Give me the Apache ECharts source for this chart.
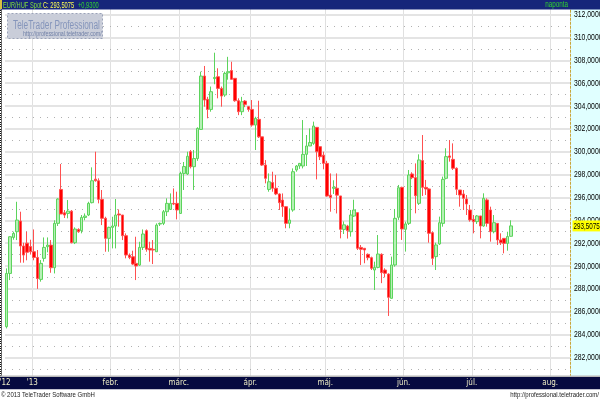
<!DOCTYPE html>
<html><head><meta charset="utf-8">
<script src="https://cdn.jsdelivr.net/npm/echarts@6/dist/echarts.min.js"></script>
<style>html,body{margin:0;padding:0;background:#fff;}#c{width:600px;height:400px;}</style>
</head><body><div id="c"></div>
<script>
// ---- data ----
const dates = [
'2012-12-20','2012-12-21','2012-12-24','2012-12-25','2012-12-26','2012-12-27','2012-12-28','2012-12-31',
'2013-01-01','2013-01-02','2013-01-03','2013-01-04','2013-01-07','2013-01-08','2013-01-09','2013-01-10','2013-01-11','2013-01-14','2013-01-15','2013-01-16','2013-01-17','2013-01-18','2013-01-21','2013-01-22','2013-01-23','2013-01-24','2013-01-25','2013-01-28','2013-01-29','2013-01-30','2013-01-31',
'2013-02-01','2013-02-04','2013-02-05','2013-02-06','2013-02-07','2013-02-08','2013-02-11','2013-02-12','2013-02-13','2013-02-14','2013-02-15','2013-02-18','2013-02-19','2013-02-20','2013-02-21','2013-02-22','2013-02-25','2013-02-26','2013-02-27','2013-02-28',
'2013-03-01','2013-03-04','2013-03-05','2013-03-06','2013-03-07','2013-03-08','2013-03-11','2013-03-12','2013-03-13','2013-03-14','2013-03-15','2013-03-18','2013-03-19','2013-03-20','2013-03-21','2013-03-22','2013-03-25','2013-03-26','2013-03-27','2013-03-28','2013-03-29',
'2013-04-01','2013-04-02','2013-04-03','2013-04-04','2013-04-05','2013-04-08','2013-04-09','2013-04-10','2013-04-11','2013-04-12','2013-04-15','2013-04-16','2013-04-17','2013-04-18','2013-04-19','2013-04-22','2013-04-23','2013-04-24','2013-04-25','2013-04-26','2013-04-29','2013-04-30',
'2013-05-01','2013-05-02','2013-05-03','2013-05-06','2013-05-07','2013-05-08','2013-05-09','2013-05-10','2013-05-13','2013-05-14','2013-05-15','2013-05-16','2013-05-17','2013-05-20','2013-05-21','2013-05-22','2013-05-23','2013-05-24','2013-05-27','2013-05-28','2013-05-29','2013-05-30','2013-05-31',
'2013-06-03','2013-06-04','2013-06-05','2013-06-06','2013-06-07','2013-06-10','2013-06-11','2013-06-12','2013-06-13','2013-06-14','2013-06-17','2013-06-18','2013-06-19','2013-06-20','2013-06-21','2013-06-24','2013-06-25','2013-06-26','2013-06-27','2013-06-28',
'2013-07-01','2013-07-02','2013-07-03','2013-07-04','2013-07-05','2013-07-08','2013-07-09','2013-07-10','2013-07-11','2013-07-12','2013-07-15','2013-07-16','2013-07-17','2013-07-18','2013-07-19','2013-07-22','2013-07-23','2013-07-24','2013-07-25','2013-07-26','2013-07-29','2013-07-30','2013-07-31',
'2013-08-01','2013-08-02','2013-08-05','2013-08-06','2013-08-07','2013-08-08'
];
const opens = [
284.69,289.35,292.5,293.0,293.93,291.75,292.0,291.7,291.25,290.75,
288.83,290.67,291.69,291.83,289.85,293.73,296.7,294.66,294.6,294.8,
292.04,293.2,293.09,294.25,294.46,295.54,297.6,297.46,295.83,294.17,
292.42,293.38,293.5,294.55,294.46,292.65,290.96,290.81,290.23,290.08,
291.63,293.09,291.54,291.46,291.25,293.67,293.73,294.75,294.95,295.48,
295.48,294.6,298.1,298.05,300.0,298.69,299.4,301.95,306.62,304.58,
303.7,306.4,306.56,305.54,304.96,306.9,307.1,306.42,304.46,303.5,
304.43,303.94,303.7,302.33,302.83,301.3,298.83,296.7,297.3,296.8,
296.3,295.77,295.19,293.73,294.9,298.4,298.75,298.75,299.77,300.5,
300.73,302.13,300.44,299.7,298.98,296.2,296.8,296.8,296.13,293.2,
293.5,293.0,294.37,294.67,291.63,291.55,291.02,290.73,289.65,289.88,
291.02,289.65,289.3,287.17,290.09,294.26,296.88,293.21,293.73,298.05,
297.73,295.48,299.22,296.88,296.74,292.92,290.82,291.93,293.73,297.67,
299.63,299.33,298.55,296.65,296.3,295.86,294.9,294.08,293.88,294.38,
293.5,295.78,294.9,293.0,293.73,292.28,292.42,291.98,292.6];
const closes = [
289.35,292.56,292.85,294.02,291.75,290.96,291.2,291.25,290.75,288.9,
290.23,291.63,291.83,289.85,293.73,295.86,294.55,294.46,294.8,292.04,
293.23,293.0,294.25,294.37,295.48,297.46,297.46,295.83,294.17,292.42,
293.38,293.5,294.46,294.46,292.65,290.96,290.75,290.17,290.0,291.63,
292.8,291.46,291.4,291.4,293.58,293.73,294.75,295.48,295.48,295.42,
294.9,298.1,298.7,299.6,298.69,299.4,302.04,306.62,304.52,303.7,
305.25,306.5,305.54,304.87,306.85,307.0,306.33,304.46,303.5,304.37,
304.14,303.7,302.33,302.92,301.3,298.83,297.67,297.37,296.8,296.3,
295.54,295.19,293.73,294.02,298.25,298.75,298.98,299.77,300.5,300.8,
302.25,300.0,299.56,298.98,296.12,296.0,296.9,296.2,293.21,293.6,
293.1,294.46,294.9,291.55,291.46,291.4,290.73,289.8,289.88,291.05,
289.42,289.36,287.26,290.09,294.17,296.85,293.24,293.68,297.96,297.73,
296.15,299.28,296.88,296.74,292.86,290.67,291.84,293.79,297.58,299.57,
299.51,298.55,296.71,296.21,295.92,295.43,294.03,293.88,294.38,293.5,
295.92,293.73,293.0,293.79,292.28,292.04,291.98,292.58,293.51];
const lows = [
284.54,288.77,292.3,292.27,290.29,290.29,290.5,291.0,290.5,288.0,
288.63,290.38,291.2,289.41,289.35,293.5,294.55,294.2,294.17,291.98,
291.92,292.9,292.86,294.0,294.37,295.48,297.38,295.48,293.58,291.25,
291.25,291.54,291.54,293.44,292.27,290.67,290.6,290.08,288.77,290.0,
291.4,291.25,290.38,290.17,291.25,293.5,293.58,294.37,294.9,295.33,
294.08,294.55,296.65,297.96,298.54,296.65,299.2,301.9,303.94,302.92,
303.5,305.9,304.67,303.94,304.8,306.3,306.33,304.37,303.2,303.2,
303.9,303.5,302.19,300.15,301.2,298.75,297.23,296.5,296.5,296.2,
294.9,294.3,293.3,293.3,294.75,298.25,298.5,298.54,298.75,300.5,
300.6,297.58,299.27,298.46,296.06,294.75,296.3,294.6,292.42,292.8,
292.4,292.57,294.3,291.4,290.09,290.24,290.5,289.65,287.9,289.8,
288.5,289.0,285.63,287.17,289.94,294.03,292.28,291.26,293.59,297.6,
294.61,295.34,296.13,296.21,292.04,290.09,289.65,291.84,293.44,297.58,
299.13,298.4,296.21,295.19,294.9,294.46,293.88,292.86,293.68,292.42,
293.44,293.44,292.13,292.86,291.84,291.84,291.11,291.34,292.57];
const highs = [
289.79,292.6,293.0,295.62,294.75,292.04,293.0,292.3,293.2,291.4,
290.52,292.5,292.5,292.27,294.0,295.92,298.92,294.9,295.77,294.9,
293.38,293.3,294.46,294.6,295.62,298.63,300.0,297.67,296.65,294.31,
293.44,294.31,295.86,294.95,294.46,292.85,291.1,291.34,292.56,292.12,
293.2,293.2,292.12,292.27,293.73,293.8,294.9,295.92,296.35,296.79,
296.5,298.25,299.1,300.0,300.15,300.15,302.13,307.0,307.5,304.8,
305.7,308.66,307.3,305.7,307.0,308.3,307.87,306.42,304.67,304.8,
304.52,304.0,304.52,303.06,304.46,301.3,299.27,298.1,298.25,297.96,
296.35,296.35,295.25,295.04,298.54,298.83,299.0,302.77,301.46,302.04,
302.63,302.13,300.44,300.0,299.2,298.1,297.5,298.1,296.13,293.9,
293.6,294.9,295.8,294.67,291.84,291.55,291.1,290.82,290.38,292.71,
291.11,289.8,289.36,290.82,294.99,297.09,296.94,293.88,298.4,298.2,
298.98,299.77,301.46,297.53,296.8,293.0,292.04,294.32,297.82,300.3,
301.02,300.73,298.63,296.65,296.65,296.21,295.34,294.46,294.46,294.38,
296.36,295.92,295.19,294.46,293.73,292.86,292.42,293.0,294.0];
const monthLabels = {'2013-01':"'13",'2013-02':'febr.','2013-03':'márc.','2013-04':'ápr.','2013-05':'máj.','2013-06':'jún.','2013-07':'júl.','2013-08':'aug.'};
const firstLabel = "'12";
const yTickValues = [282,284,286,288,290,292,294,296,298,300,302,304,306,308,310,312];
const lastCloseText = '293,5075';
const lastClose = 293.5075;
const changeText = '+0,9300';
const instrument = 'EUR/HUF Spot';

// ---- chart ----
const NARROW = '"Liberation Sans Narrow","Arial Narrow","DejaVu Sans Condensed","Liberation Sans",Arial,sans-serif';
const SANS = '"Liberation Sans",Arial,sans-serif';
function isMonthStart(i){ return i>0 && i<dates.length && dates[i].slice(0,7)!==dates[i-1].slice(0,7); }
function fmtPrice(v){ return v.toFixed(4).replace('.',','); }
const candles = opens.map((o,i)=>[o, closes[i], lows[i], highs[i]]);

const chart = echarts.init(document.getElementById('c'), null, {renderer:'canvas'});
const option = {
  animation:false,
  backgroundColor:'#ffffff',
  grid:{left:5, right:29.4, top:3.11, height:377.2, containLabel:false, outerBoundsMode:'none'},
  xAxis:[{
    type:'category', data:dates, boundaryGap:true,
    axisLine:{show:false}, axisTick:{show:false}, axisLabel:{show:false},
    splitLine:{show:true, interval:(i)=>isMonthStart(i), lineStyle:{color:'#e0e0e0', width:1}}
  },{
    type:'category', data:dates, boundaryGap:true, position:'bottom', z:120,
    axisLine:{show:false}, axisTick:{show:false}, splitLine:{show:false},
    axisLabel:{show:true, interval:(i)=> i===0 || isMonthStart(i),
      formatter:(v,i)=> i===0 ? firstLabel : (monthLabels[v.slice(0,7)]||''),
      color:'#ecebc4', fontSize:8, fontFamily:NARROW, verticalAlign:'middle', margin:3, padding:[0,3.4,0,0]}
  }],
  yAxis:[{
    type:'value', position:'right', min:280, max:313, interval:2, z:10,
    axisLine:{show:true, lineStyle:{color:'#c8a838', type:[2,2], width:1}},
    axisTick:{show:false},
    axisLabel:{show:false},
    splitLine:{show:true, lineStyle:{color:'#e4e4e4', width:2}},
    minorTick:{show:false, splitNumber:2},
    minorSplitLine:{show:true, lineStyle:{color:'#b0b0b0', type:[1,6], width:1}}
  },{
    type:'value', position:'left', min:280, max:313, interval:0.2, offset:4,
    axisLine:{show:true, lineStyle:{color:'#666'}},
    axisTick:{show:true, length:2, lineStyle:{color:'#111'}},
    axisLabel:{show:false}, splitLine:{show:false}
  }],
  series:[{
    type:'candlestick', xAxisIndex:0, yAxisIndex:0, z:20,
    barWidth:3,
    data:candles,
    itemStyle:{color:'#b6f0b6', color0:'#ff0000', borderColor:'#5cd45c', borderColor0:'#ff5050', borderWidth:1}
  }],
  graphic:[
    {type:'rect', id:'rightbg', shape:{x:571,y:9,width:29,height:368}, style:{fill:'#e0ffff'}, z:1, silent:true},
    {type:'rect', id:'logo', shape:{x:7.5,y:13.5,width:95,height:25}, style:{fill:'#c9cdd9', stroke:'#9aa2b8', lineDash:[2,2], lineWidth:1}, z:50, silent:true},
    {type:'text', id:'logo1', x:13, y:25.5, scaleX:0.66, z:51, silent:true,
      style:{text:'TeleTrader Professional', fill:'#8595bb', font:'12.5px '+SANS, textAlign:'left', textVerticalAlign:'middle'}},
    {type:'text', id:'logo2', x:23, y:34.5, scaleX:0.76, z:51, silent:true,
      style:{text:'http://professional.teletrader.com/', fill:'#6f7fa6', font:'7px '+SANS, textAlign:'left', textVerticalAlign:'middle'}},
    {type:'rect', id:'header', shape:{x:0,y:0,width:600,height:9.5}, style:{fill:'#16267a'}, z:100, silent:true},
    {type:'rect', id:'hdrmark', shape:{x:0,y:0,width:2,height:9}, style:{fill:'#d8c040'}, z:101, silent:true},
    {type:'text', id:'h1', x:3, y:5, scaleX:0.6, z:101, silent:true,
      style:{text:instrument, fill:'#7fdc3a', font:'9.5px '+SANS, textAlign:'left', textVerticalAlign:'middle'}},
    {type:'text', id:'h2', x:43, y:5, scaleX:0.6, z:101, silent:true,
      style:{text:'C: '+lastCloseText, fill:'#ffff50', font:'9.5px '+SANS, textAlign:'left', textVerticalAlign:'middle'}},
    {type:'text', id:'h3', x:78, y:5, scaleX:0.6, z:101, silent:true,
      style:{text:changeText, fill:'#30d030', font:'9.5px '+SANS, textAlign:'left', textVerticalAlign:'middle'}},
    {type:'text', id:'h4', x:568, y:5, scaleX:0.7, z:101, silent:true,
      style:{text:'naponta', fill:'#30d030', font:'9px '+SANS, textAlign:'right', textVerticalAlign:'middle'}},
    {type:'rect', id:'bandline', shape:{x:0,y:375.5,width:600,height:1.5}, style:{fill:'#b8b8b8'}, z:100, silent:true},
    {type:'rect', id:'band', shape:{x:0,y:377,width:600,height:12.5}, style:{fill:'#060a40'}, z:100, silent:true},
    {type:'rect', id:'footer', shape:{x:0,y:389.5,width:600,height:10.5}, style:{fill:'#ffffff'}, z:100, silent:true},
    {type:'text', id:'f1', x:1, y:395, scaleX:0.75, z:101, silent:true,
      style:{text:'© 2013 TeleTrader Software GmbH', fill:'#222', font:'8px '+SANS, textAlign:'left', textVerticalAlign:'middle'}},
    {type:'text', id:'f2', x:599, y:395, scaleX:0.75, z:101, silent:true,
      style:{text:'http://professional.teletrader.com/', fill:'#222', font:'8px '+SANS, textAlign:'right', textVerticalAlign:'middle'}}
  ]
};
chart.setOption(option);

// right-hand price labels and last-price tag, positioned through the value axis
yTickValues.forEach(v => {
  const py = chart.convertToPixel({yAxisIndex:0}, v);
  option.graphic.push({type:'text', id:'yl'+v, x:574, y:py, scaleX:0.72, z:30, silent:true,
    style:{text:fmtPrice(v), fill:'#000', font:'9.5px '+SANS, textAlign:'left', textVerticalAlign:'middle'}});
});
const tagY = chart.convertToPixel({yAxisIndex:0}, lastClose);
option.graphic.push({type:'rect', id:'tagbg', shape:{x:572.5, y:tagY-5.5, width:27.5, height:11}, style:{fill:'#ffff00'}, z:40, silent:true});
option.graphic.push({type:'text', id:'tagtx', x:573.5, y:tagY, scaleX:0.66, z:41, silent:true,
  style:{text:lastCloseText, fill:'#000', font:'9.5px '+SANS, textAlign:'left', textVerticalAlign:'middle'}});
chart.setOption(option, true);
</script></body></html>
